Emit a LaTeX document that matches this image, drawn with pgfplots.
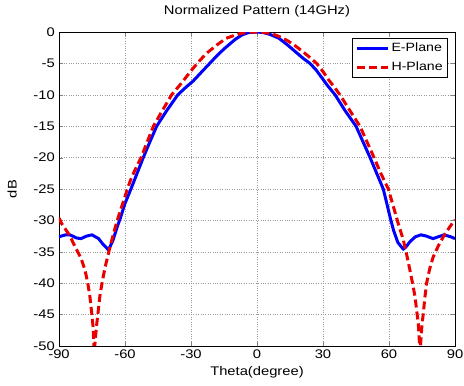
\documentclass[border=0pt]{standalone}
\usepackage{fontspec}
\setmainfont{Liberation Sans}[FakeStretch=1.18]
\usepackage{pgfplots}
\pgfplotsset{compat=1.18}
\begin{document}
\fontsize{12pt}{14pt}\selectfont
\begin{tikzpicture}[x=1pt,y=1pt]
\path[use as bounding box] (-59,-40) rectangle (405,346);
\begin{axis}[
  at={(0,0)}, anchor=south west,
  scale only axis, width=396pt, height=314pt,
  xmin=-90, xmax=90, ymin=-50, ymax=0,
  xtick={-90,-60,-30,0,30,60,90},
  ytick={0,-5,-10,-15,-20,-25,-30,-35,-40,-45,-50},
  tick align=inside, tick pos=both,
  major tick length=4pt,
  /pgf/number format/assume math mode=true,
  ticklabel style={font=\fontsize{12.5pt}{14pt}\selectfont},
  grid=major,
  major grid style={dotted, gray!80, line width=0.6pt},
  axis line style={black, line width=0.6pt},
  title={Normalized Pattern (14GHz)},
  title style={at={(0.5,1)}, anchor=base, yshift=12pt, font=\fontsize{12.5pt}{14pt}\selectfont},
  xlabel={Theta(degree)},
  xlabel style={at={(0.5,0)}, anchor=base, yshift=-29pt, font=\fontsize{12.5pt}{14pt}\selectfont},
  ylabel={dB},
  ylabel style={at={(0,0.5)}, anchor=south, inner sep=0pt, yshift=42pt, font=\fontsize{12.5pt}{14pt}\selectfont},
  legend style={at={(1,1)}, anchor=north east, xshift=-7pt, yshift=-6pt,
    draw=black, line width=0.6pt, font=\fontsize{12pt}{14pt}\selectfont,
    inner xsep=3pt, inner ysep=3pt, row sep=4pt, cells={anchor=west}},
  legend image code/.code={\draw[#1] (0pt,0pt) -- (31pt,0pt);},
  clip=true,
]
\addplot[blue, line width=3pt, line join=round] coordinates {
(-90,-32.6) (-87,-32.3) (-85,-32.3) (-82,-32.8) (-80,-32.9) (-77.5,-32.5) (-75,-32.3)
(-72,-32.9) (-70,-33.8) (-67.5,-34.7) (-65.5,-33.2) (-63.5,-31) (-62,-29.5) (-60,-27.3)
(-57.3,-25) (-54.5,-22.5) (-51.7,-20) (-48.7,-17.5) (-45.6,-15) (-41,-12.5) (-36,-10)
(-32,-8.7) (-29,-7.8) (-25,-6.3) (-21.5,-5) (-18,-3.7) (-15,-2.7) (-12,-1.8) (-10,-1.2)
(-7,-0.5) (-4,-0.1) (0,0) (3,-0.1) (6,-0.4) (10,-1.0) (14,-2.1) (18,-3.3) (21,-4.2)
(24.1,-5) (27,-6.1) (29.5,-7.3) (32,-8.5) (35.5,-10) (40,-12.5) (45,-15) (48.2,-17.5)
(51.4,-20) (54.4,-22.5) (57.4,-25) (59,-27.3) (60.5,-29.5) (62,-31.5) (64,-33.5)
(66.5,-34.6) (68,-34.1) (69.5,-33.4) (72,-32.6) (74.5,-32.3) (77,-32.5) (80,-32.9)
(82.5,-32.6) (85,-32.3) (88,-32.6) (90,-32.9)
};
\addlegendentry{E-Plane}
\addplot[red!92!black, line width=3pt, dash pattern=on 8pt off 4pt] coordinates {
(-90,-29.6) (-88.8,-30.5) (-86.5,-31.7) (-85,-32.5) (-82.7,-34.2) (-80,-36) (-78.2,-37.9)
(-77,-39.8) (-76,-42) (-75.2,-44.5) (-74.5,-47) (-74,-51) (-73,-47) (-72.2,-44.5)
(-71.4,-42) (-70.2,-39.5) (-69,-37.4) (-66.8,-34.2) (-65,-31.8) (-63,-29.4) (-60,-26.2)
(-59.2,-25.3) (-57.5,-23.6) (-55.5,-22) (-52.7,-20) (-50,-17.6) (-47.1,-15) (-43,-12.5)
(-38.8,-10) (-34,-8) (-30.5,-6.4) (-27.2,-5) (-23,-3.4) (-18,-2) (-14,-1.0) (-10,-0.5)
(-7,-0.2) (-3,0) (0,0) (3,-0.05) (7,-0.3) (10,-0.7) (13.5,-1.3) (17,-2.1) (20,-2.9)
(23.5,-3.9) (27.1,-5) (30,-6.3) (32.3,-7.5) (35,-8.7) (37.7,-10) (42.2,-12.5) (46.8,-15)
(50,-17.5) (53.2,-20) (56,-22.3) (59.7,-25) (62,-27.8) (64.2,-30.5) (66.5,-33.1)
(68,-35.4) (69.5,-37.9) (70.7,-40) (71.8,-42.1) (73.3,-46.4) (74.1,-51) (75,-46.6)
(75.6,-44.8) (76.3,-42.3) (77.1,-40) (78.5,-37.7) (80.1,-35.8) (82.5,-34) (84.7,-32.6)
(87.5,-31.1) (90,-29.9)
};
\addlegendentry{H-Plane}
\end{axis}
\end{tikzpicture}
\end{document}
